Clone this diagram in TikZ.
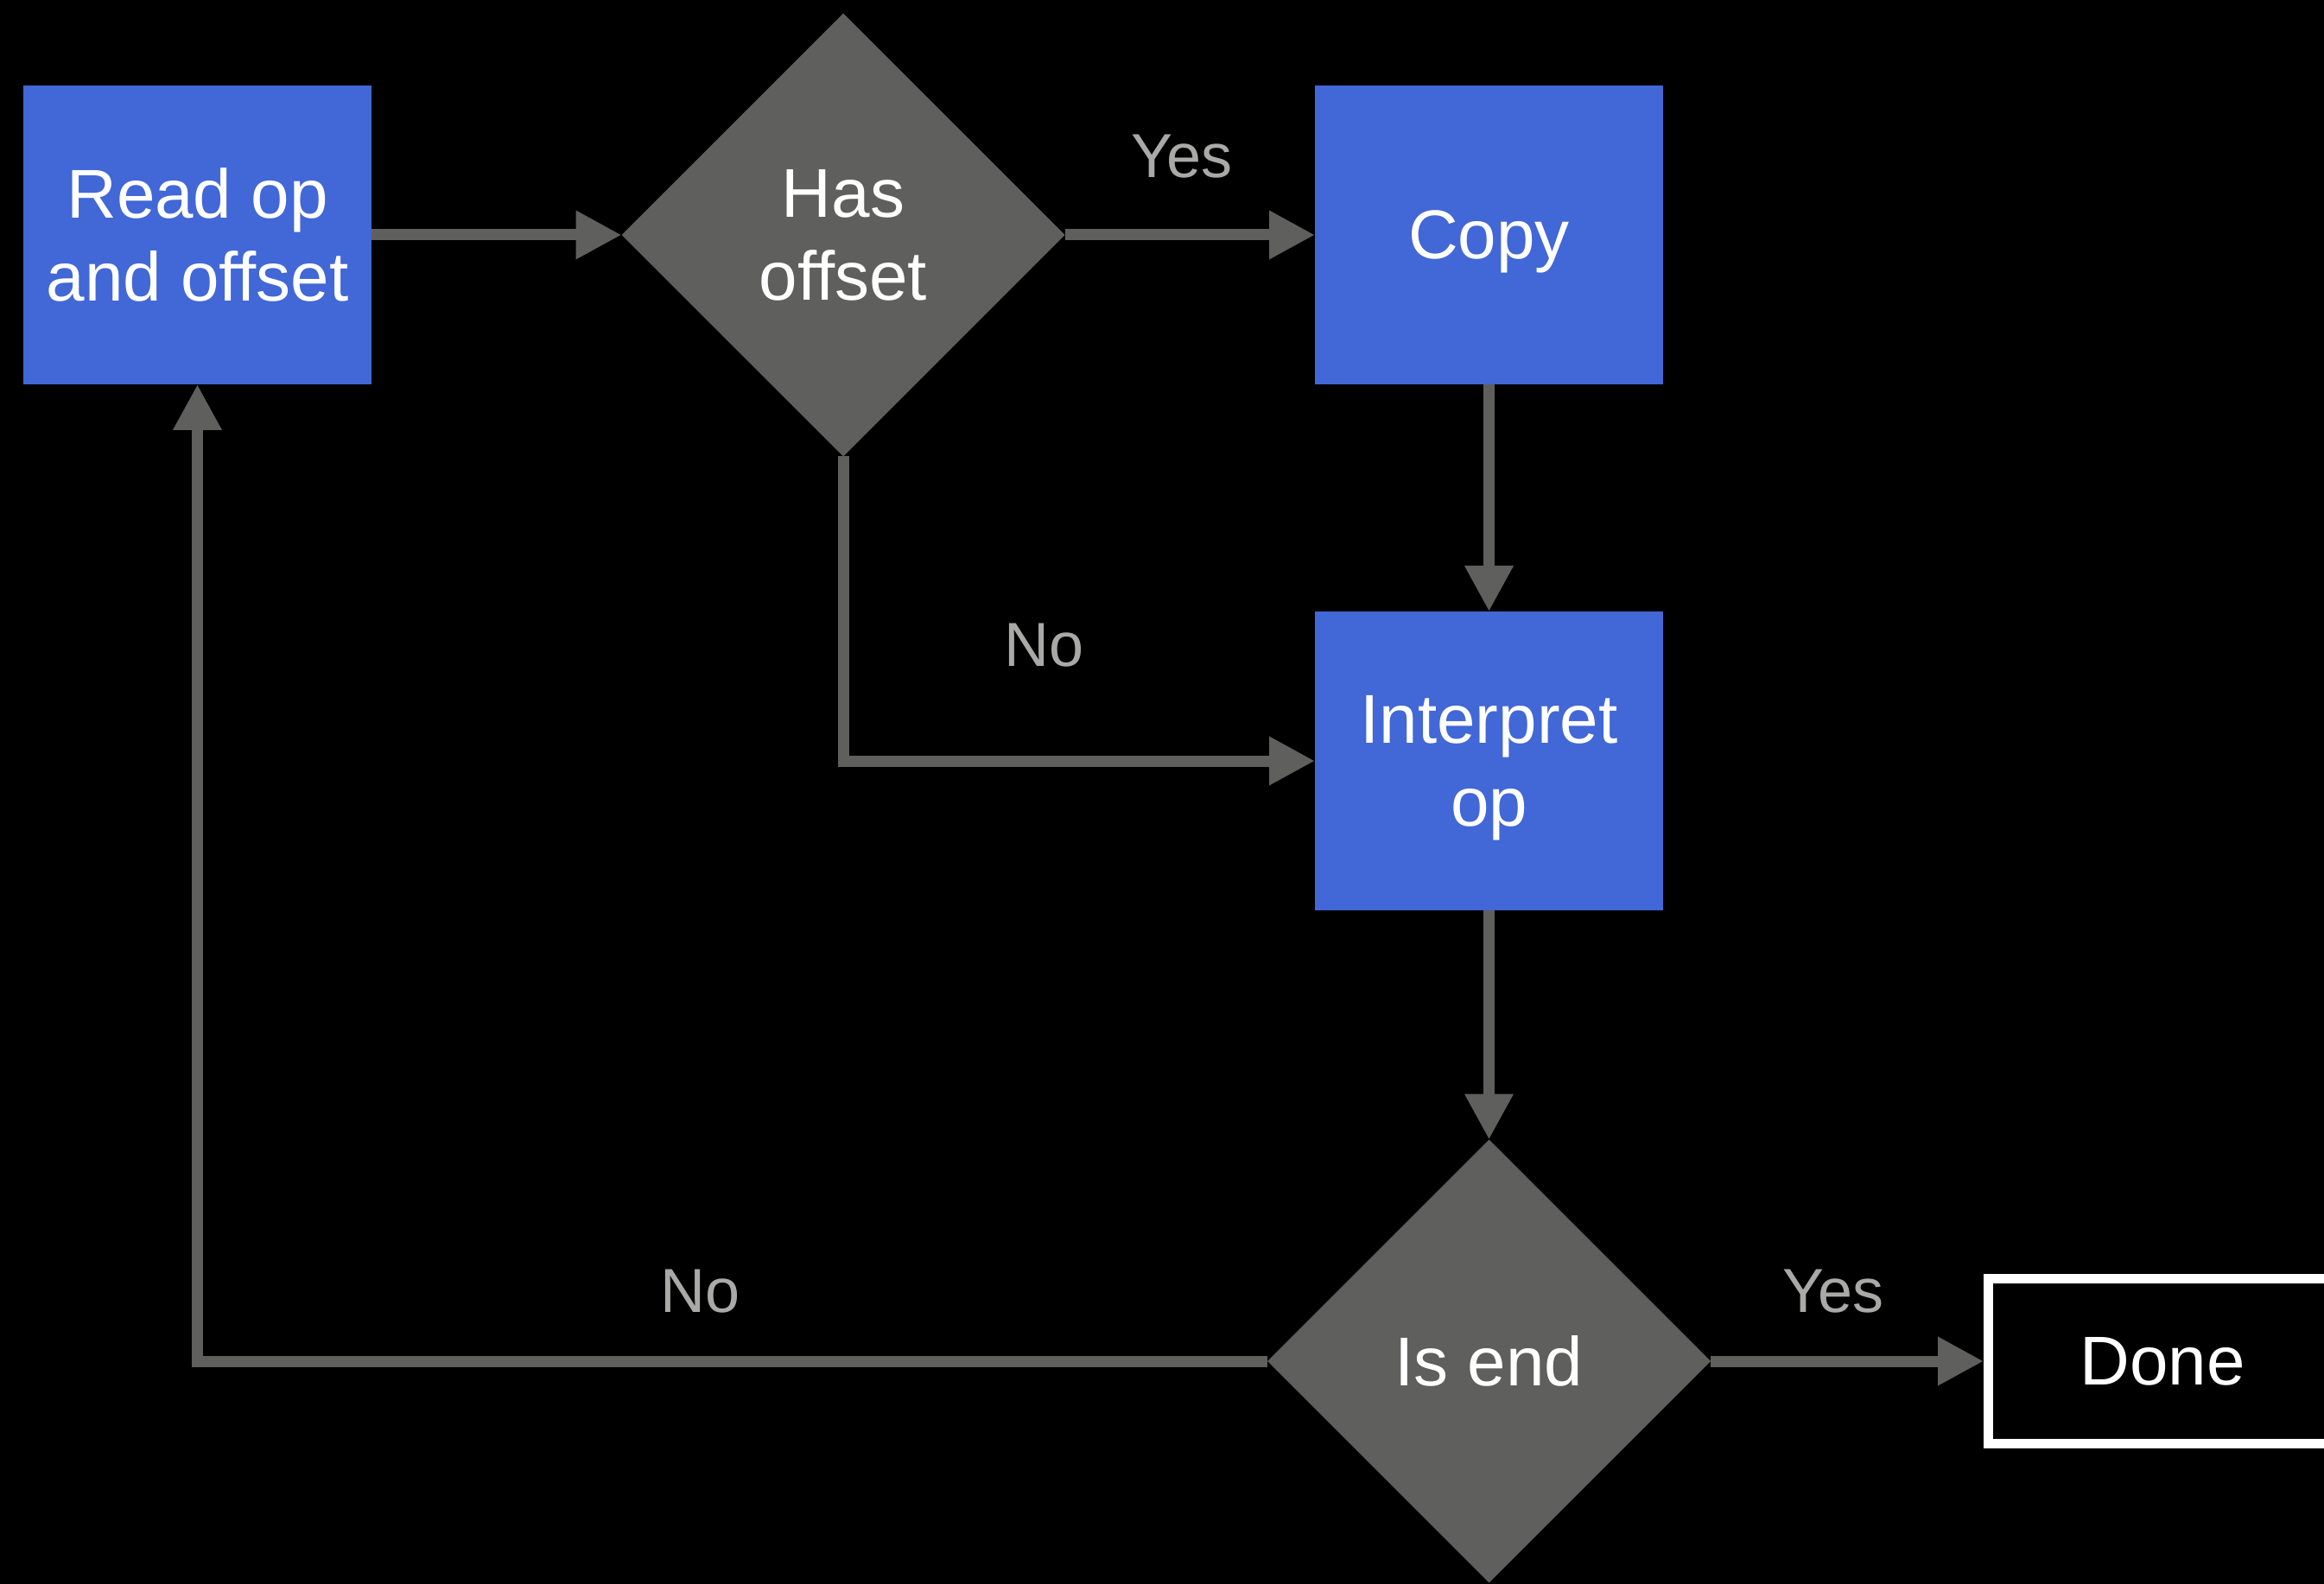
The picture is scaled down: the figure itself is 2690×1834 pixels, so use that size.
\documentclass[tikz,border=0pt]{standalone}
\usepackage{fontspec}
\setmainfont{Liberation Sans}
\usetikzlibrary{shapes.geometric,arrows.meta}

\definecolor{stepblue}{RGB}{66,103,214}
\definecolor{flowgrey}{RGB}{95,95,93}
\definecolor{labelgrey}{RGB}{169,169,167}

\tikzset{
  stepbox/.style={rectangle, fill=stepblue, text=white, inner sep=0pt, outer sep=0pt,
    minimum width=201.5pt, minimum height=173pt, align=center, text depth=0pt,
    font=\fontsize{40}{48}\selectfont},
  decision/.style={diamond, fill=flowgrey, text=white, inner sep=0pt, outer sep=0pt,
    minimum width=256.5pt, minimum height=256.5pt, align=center,
    font=\fontsize{40}{48}\selectfont},
  endbox/.style={rectangle, draw=white, line width=5.5pt, fill=black, text=white,
    inner sep=0pt, minimum width=201.5pt, minimum height=95.75pt,
    font=\fontsize{40}{48}\selectfont},
  flow/.style={draw=flowgrey, line width=6.5pt,
    -{Triangle[length=26.5pt,width=26.5pt]}},
  branch/.style={text=labelgrey, font=\fontsize{36}{43}\selectfont, anchor=base, inner sep=0pt},
}

\begin{document}
\begin{tikzpicture}[x=0.5pt,y=-0.5pt]
  \fill[black] (0,0) rectangle (2690,1834);
  \useasboundingbox (0,0) rectangle (2690,1834);

  % process steps
  \node[stepbox] (read) at (228.5,272) {Read op\\and offset};
  \node[decision] (has) at (976,272) {Has\\offset};
  \node[stepbox] (copy) at (1723.5,272) {Copy};
  \node[stepbox] (interp) at (1723.5,881) {Interpret\\op};
  \node[decision] (isend) at (1723.5,1576) {Is end};
  \node[endbox] (done) at (2503,1576) {Done};

  % connectors
  \draw[flow] (read.east) -- (has.west);
  \draw[flow] (has.east) -- (copy.west);
  \draw[flow] (has.south) |- (interp.west);
  \draw[flow] (copy.south) -- (interp.north);
  \draw[flow] (interp.south) -- (isend.north);
  \draw[flow] (isend.west) -| (read.south);
  \draw[flow] (isend.east) -- (done.west);

  % branch labels
  \node[branch] (yes1) at (1368,206) {Yes};
  \node[branch] (no1) at (1209,772) {No};
  \node[branch] (no2) at (811,1519) {No};
  \node[branch] (yes2) at (2122,1519) {Yes};
\end{tikzpicture}
\end{document}
